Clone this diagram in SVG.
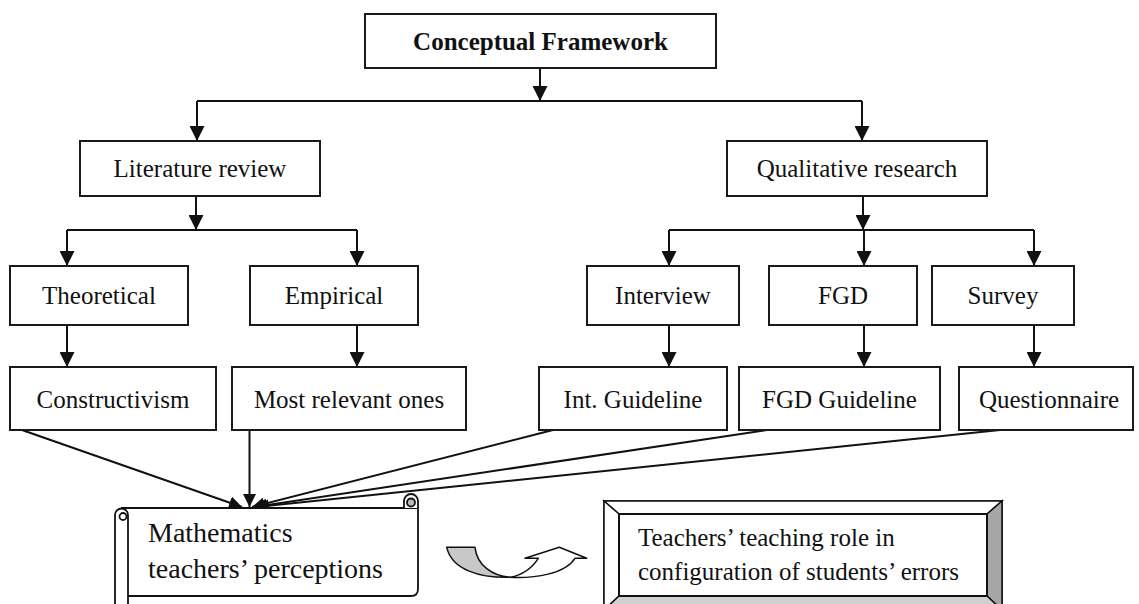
<svg xmlns="http://www.w3.org/2000/svg" width="1139" height="604" viewBox="0 0 1139 604">
<style>
.box{fill:#fff;stroke:#1a1a1a;stroke-width:2}
.t{font-family:"Liberation Serif","Times New Roman",serif;font-size:25px;fill:#111;text-anchor:middle}
.tl{font-family:"Liberation Serif","Times New Roman",serif;fill:#111}
.c{fill:none;stroke:#111;stroke-width:2}
.s{stroke:#111;stroke-width:1.8}
</style>
<defs>
<marker id="ah" viewBox="0 0 10 10" refX="10" refY="5" markerWidth="15" markerHeight="15" markerUnits="userSpaceOnUse" orient="auto"><path d="M0,0 L10,5 L0,10 z" fill="#111"/></marker>
<marker id="ah2" viewBox="0 0 10 10" refX="10" refY="5" markerWidth="13" markerHeight="13" markerUnits="userSpaceOnUse" orient="auto"><path d="M0,0 L10,5 L0,10 z" fill="#111"/></marker>
</defs>
<rect width="1139" height="604" fill="#fff"/>
<g id="connectors" class="c">
<path d="M540,68 V101" marker-end="url(#ah)"/>
<path d="M197,101 H862"/>
<path d="M197,101 V141" marker-end="url(#ah)"/>
<path d="M862,101 V141" marker-end="url(#ah)"/>
<path d="M196,196 V230" marker-end="url(#ah)"/>
<path d="M67,230 H357"/>
<path d="M67,230 V266" marker-end="url(#ah)"/>
<path d="M357,230 V266" marker-end="url(#ah)"/>
<path d="M863,196 V230" marker-end="url(#ah)"/>
<path d="M669,230 H1034"/>
<path d="M669,230 V266" marker-end="url(#ah)"/>
<path d="M864,230 V266" marker-end="url(#ah)"/>
<path d="M1034,230 V266" marker-end="url(#ah)"/>
<path d="M67,325 V367" marker-end="url(#ah)"/>
<path d="M357,325 V367" marker-end="url(#ah)"/>
<path d="M669,325 V367" marker-end="url(#ah)"/>
<path d="M864,325 V367" marker-end="url(#ah)"/>
<path d="M1034,325 V367" marker-end="url(#ah)"/>
<path d="M22,430 L242,507" marker-end="url(#ah2)"/>
<path d="M249.5,430 V507" marker-end="url(#ah2)"/>
<path d="M553,430 L252,507" marker-end="url(#ah2)"/>
<path d="M767,430 L254,507" marker-end="url(#ah2)"/>
<path d="M1000,430 L256,507" marker-end="url(#ah2)"/>
</g>
<g id="n-cf"><rect class="box" x="365" y="14" width="351" height="54"/><text class="t" x="540.5" y="50" font-weight="bold">Conceptual Framework</text></g>
<g id="n-lit"><rect class="box" x="80" y="141" width="240" height="55"/><text class="t" x="200" y="177">Literature review</text></g>
<g id="n-qual"><rect class="box" x="727" y="141" width="260" height="55"/><text class="t" x="857" y="177">Qualitative research</text></g>
<g id="n-theo"><rect class="box" x="10" y="266" width="178" height="59"/><text class="t" x="99" y="304">Theoretical</text></g>
<g id="n-emp"><rect class="box" x="250" y="266" width="168" height="59"/><text class="t" x="334" y="304">Empirical</text></g>
<g id="n-int"><rect class="box" x="587" y="266" width="152" height="59"/><text class="t" x="663" y="304">Interview</text></g>
<g id="n-fgd"><rect class="box" x="769" y="266" width="148" height="59"/><text class="t" x="843" y="304">FGD</text></g>
<g id="n-survey"><rect class="box" x="932" y="266" width="142" height="59"/><text class="t" x="1003" y="304">Survey</text></g>
<g id="n-cons"><rect class="box" x="10" y="367" width="206" height="63"/><text class="t" x="113" y="408">Constructivism</text></g>
<g id="n-most"><rect class="box" x="232" y="367" width="234" height="63"/><text class="t" x="349" y="408">Most relevant ones</text></g>
<g id="n-intg"><rect class="box" x="539" y="367" width="188" height="63"/><text class="t" x="633" y="408">Int. Guideline</text></g>
<g id="n-fgdg"><rect class="box" x="739" y="367" width="201" height="63"/><text class="t" x="839.5" y="408">FGD Guideline</text></g>
<g id="n-quest"><rect class="box" x="959" y="367" width="174" height="63"/><text class="t" x="1049" y="408">Questionnaire</text></g>
<g id="n-perceptions">
<path d="M121,508 L418,508 L418,589 Q418,596 411,596 L128,596" fill="#fff" class="s"/>
<path d="M115,606 L115,515 A6.5,6.5 0 0 1 128,515 L128,606 Z" fill="#fff" class="s"/>
<circle cx="123" cy="516.5" r="3.5" fill="#fff" class="s"/>
<path d="M404,508 L404,501 A7,7 0 0 1 418,501 L418,508" fill="#fff" class="s"/>
<circle cx="411" cy="502.5" r="4" fill="#bbb" class="s"/>
<text class="tl" font-size="28" x="148" y="542">Mathematics</text>
<text class="tl" font-size="28" x="148" y="578">teachers’ perceptions</text>
</g>
<g id="curved-arrow" stroke="#111" stroke-width="1.5" stroke-linejoin="round">
<path d="M446.7,547.3 L475,547.3 C477,565 492,576 510,577.3 C480,578 452,570 446.7,547.3 Z" fill="#c8c8c8"/>
<path d="M510,577.3 C535,578.5 565,574 575,558.3 L586.7,558.3 L559.3,547.3 L525,558.3 L538.3,558.3 C532,568 522,575 510,577.3 Z" fill="#fff"/>
</g>
<g id="n-role" stroke="#111" stroke-width="1.5">
<rect x="604" y="501" width="398" height="109" fill="#fff"/>
<polygon points="604,501 1002,501 987,514 619,514" fill="#fff"/>
<polygon points="604,501 619,514 619,596 604,610" fill="#fff"/>
<polygon points="1002,501 1002,610 987,596 987,514" fill="#a6a6a6"/>
<polygon points="604,610 619,596 987,596 1002,610" fill="#d0d0d0"/>
<rect x="619" y="514" width="368" height="82" fill="#fff" stroke-width="2"/>
<text class="tl" font-size="25" stroke="none" x="638" y="546">Teachers’ teaching role in</text>
<text class="tl" font-size="25" stroke="none" x="638" y="580">configuration of students’ errors</text>
</g>
</svg>
